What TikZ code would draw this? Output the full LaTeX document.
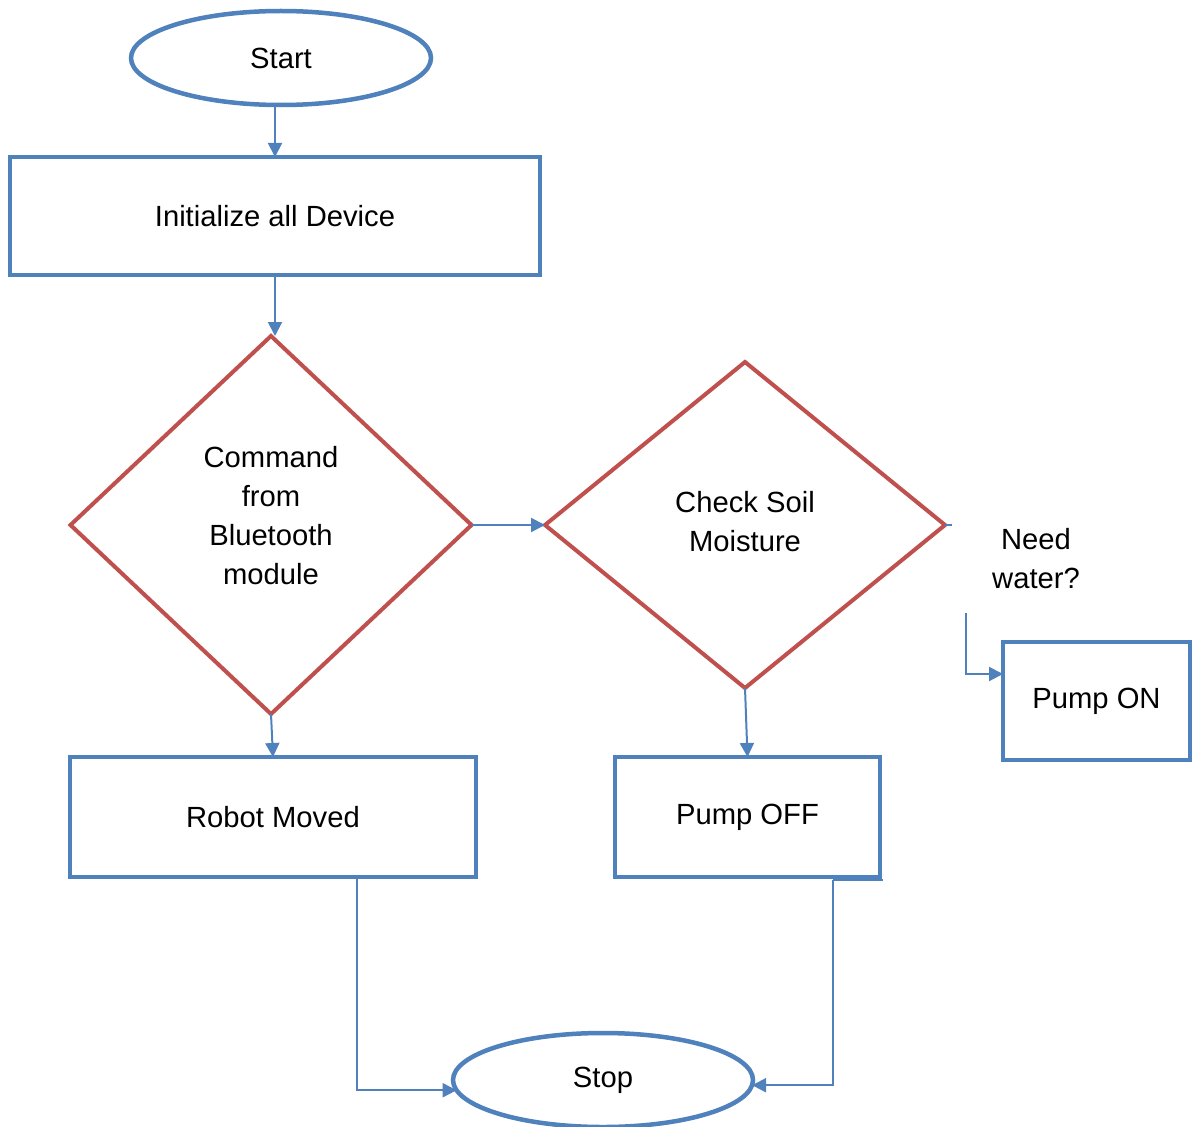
\documentclass[tikz,border=0pt]{standalone}
\usepackage{fontspec}
\setmainfont{Liberation Sans}
\usetikzlibrary{shapes.geometric,arrows.meta}
\definecolor{bblue}{HTML}{4F81BD}
\definecolor{rred}{HTML}{C0504D}
\tikzset{
  txt/.style={font=\fontsize{29.2}{39}\selectfont, align=center},
  boxnode/.style={draw=bblue, line width=4.5pt, rectangle, inner sep=0pt, outer sep=0pt, txt},
  ovalnode/.style={draw=bblue, line width=4.5pt, ellipse, inner sep=0pt, outer sep=0pt, minimum width=300pt, minimum height=94pt, txt},
  decnode/.style={draw=rred, line width=4pt, diamond, inner sep=0pt, outer sep=0pt, txt},
  conn/.style={draw=bblue, line width=2pt},
  arr/.style={conn, -{Triangle[length=14pt,width=14pt]}}
}
\begin{document}
\begin{tikzpicture}[x=1pt,y=-1pt]
\clip (0,0) rectangle (1198,1126);
\fill[white] (0,0) rectangle (1198,1126);
\node[ovalnode] (start) at (281,58) {Start};
\node[boxnode, minimum width=530pt, minimum height=118pt] (init) at (275,216) {Initialize all Device};
\node[decnode, minimum width=401pt, minimum height=378pt] (d1) at (271,525) {};
\node[txt] (d1t) at (271,516) {Command\\from\\Bluetooth\\module};
\node[decnode, minimum width=400pt, minimum height=326pt] (d2) at (745,525) {};
\node[txt] (d2t) at (745,522) {Check Soil\\Moisture};
\node[txt] (need) at (1036,559) {Need\\water?};
\node[boxnode, minimum width=187pt, minimum height=118pt] (pon) at (1096.5,701) {Pump ON};
\node[boxnode, minimum width=265pt, minimum height=120pt] (poff) at (747.5,817) {Pump OFF};
\node[boxnode, minimum width=406pt, minimum height=120pt] (rm) at (273,817) {Robot Moved};
\node[ovalnode] (stop) at (603,1080) {Stop};
% connectors
\draw[arr] (start.south -| init.north) -- (init.north);
\draw[arr] (init.south) -- (init.south |- d1.north);
\draw[arr] (d1.east) -- (d2.west);
\draw[arr] (d1.south) -- (rm.north);
\draw[arr] (d2.south) -- (poff.north);
\coordinate (s1) at (952,525);
\draw[conn] (d2.east) -- (s1);
\coordinate (w1) at (966,613);
\coordinate (w2) at (966,674);
\draw[arr] (w1) -- (w2) -- (w2 -| pon.west);
\coordinate (r1) at (357,877);
\draw[arr] (r1) |- (stop.184);
\coordinate (p1) at (833,880);
\coordinate (p2) at (883,880);
\draw[conn] (p1) -- (p2);
\draw[arr] (p1) |- (stop.358);
\end{tikzpicture}
\end{document}
